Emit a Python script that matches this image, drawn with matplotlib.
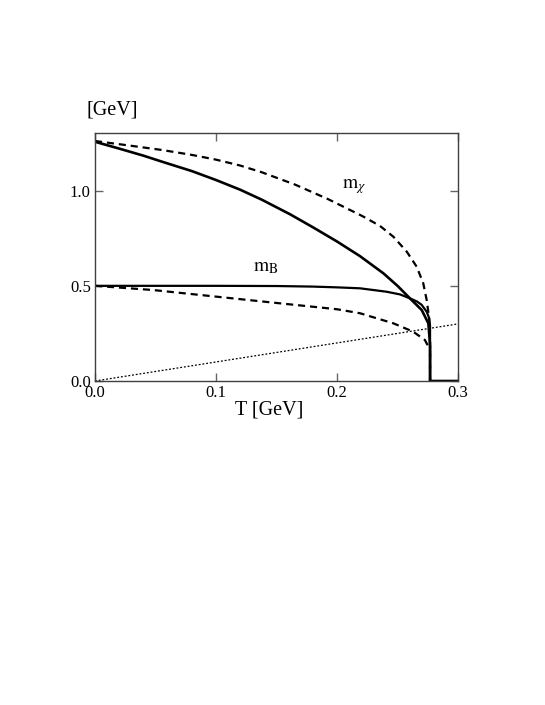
import matplotlib
matplotlib.use("Agg")
from matplotlib import pyplot as plt

plt.rcParams['font.family'] = ['Liberation Serif', 'DejaVu Serif']
plt.rcParams['mathtext.fontset'] = 'stix'

# upper solid curve
t_solid = [0.0, 0.02, 0.04, 0.055, 0.08, 0.10, 0.12, 0.1377, 0.1612, 0.18, 0.20, 0.219,
           0.2383, 0.25, 0.2603, 0.27, 0.2755, 0.2764, 0.2769, 0.2769, 0.30]
m_solid = [1.257, 1.221, 1.184, 1.153, 1.103, 1.056, 1.005, 0.953, 0.876, 0.808, 0.733, 0.656,
           0.566, 0.50, 0.434, 0.373, 0.303, 0.233, 0.18, 0.0, 0.0]

# m_B solid curve
t_mb = [0.0, 0.05, 0.10, 0.15, 0.18, 0.20, 0.219, 0.241, 0.252, 0.2603, 0.266, 0.27,
        0.2741, 0.2762, 0.2769, 0.2769]
m_mb = [0.5, 0.5, 0.5, 0.499, 0.496, 0.492, 0.487, 0.469, 0.455, 0.434, 0.418, 0.40,
        0.364, 0.33, 0.29, 0.0]

# upper dashed curve (m_chi)
t_chi = [0.0, 0.025, 0.0551, 0.08, 0.10, 0.12, 0.1377, 0.1653, 0.1928, 0.2211, 0.2355,
         0.2466, 0.2576, 0.2659, 0.2713, 0.2741, 0.276, 0.2769, 0.2769]
m_chi = [1.261, 1.24, 1.214, 1.188, 1.163, 1.132, 1.097, 1.032, 0.955, 0.866, 0.815,
         0.758, 0.68, 0.60, 0.513, 0.426, 0.338, 0.215, 0.0]

# lower dashed curve
t_low = [0.0, 0.048, 0.0975, 0.15, 0.20, 0.219, 0.2466, 0.263, 0.2727, 0.2755, 0.2769, 0.2769]
m_low = [0.5, 0.478, 0.445, 0.41, 0.377, 0.356, 0.303, 0.259, 0.215, 0.18, 0.16, 0.0]

# dotted line m = T
t_line = [0.0, 0.3]
m_line = [0.0, 0.3]

x_ticks = [0.0, 0.1, 0.2, 0.3]
y_ticks = [0.0, 0.5, 1.0]

W, H = 545, 705
fig = plt.figure(figsize=(W / 100, H / 100), dpi=100)
ax = fig.add_axes([95 / W, (H - 381) / H, 363 / W, 248 / H])

ax.plot(t_line, m_line, color='black', lw=0.9, linestyle=(0, (1.5, 1.5)))
ax.plot(t_low, m_low, color='black', lw=1.6, linestyle=(0, (3.2, 2.2)))
ax.plot(t_chi, m_chi, color='black', lw=1.6, linestyle=(0, (3.2, 2.2)))
ax.plot(t_mb, m_mb, color='black', lw=1.6)
ax.plot(t_solid, m_solid, color='black', lw=1.9)

ax.set_xlim(0, 0.3)
ax.set_ylim(0, 1.303)
ax.set_xticks(x_ticks)
ax.set_yticks(y_ticks)
ax.set_xticklabels([f'{v:.1f}' for v in x_ticks])
ax.set_yticklabels([f'{v:.1f}' for v in y_ticks])
ax.tick_params(direction='in', length=5.5, width=1.0, color='0.4',
               top=True, right=True, labelsize=12, pad=3)
for s in ax.spines.values():
    s.set_linewidth(1.0)
    s.set_color('0.25')

ax.text(0.204, 1.014, r'$\mathrm{m}_\chi$', fontsize=14)
ax.text(0.1303, 0.574, r'$\mathrm{m}_\mathrm{B}$', fontsize=14)

fig.text(86 / W, 1 - 100 / H, '[GeV]', fontsize=14.5, ha='left', va='top')
fig.text(269 / W, 1 - 400 / H, 'T [GeV]', fontsize=14.5, ha='center', va='top')

fig.savefig('out.png', dpi=100)
